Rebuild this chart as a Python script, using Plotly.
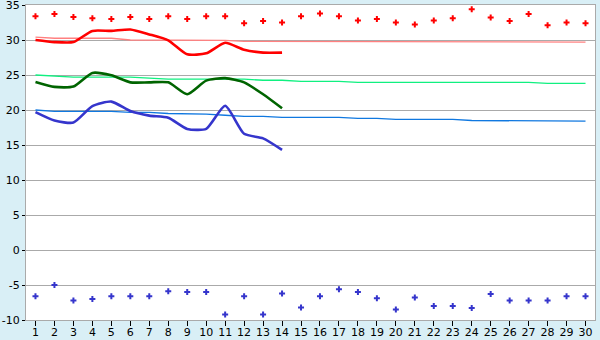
import plotly.graph_objects as go

days = list(range(1, 31))

# record highs (red markers) and record lows (blue markers)
rec_max = [33.4, 33.7, 33.3, 33.1, 33.0, 33.3, 33.0, 33.4, 33.0, 33.4,
           33.4, 32.4, 32.7, 32.5, 33.4, 33.8, 33.4, 32.8, 33.0, 32.5,
           32.2, 32.8, 33.1, 34.4, 33.2, 32.7, 33.7, 32.1, 32.5, 32.4]
rec_min = [-6.6, -5.0, -7.2, -7.0, -6.6, -6.6, -6.6, -5.9, -6.0, -6.0,
           -9.2, -6.6, -9.2, -6.2, -8.2, -6.6, -5.6, -6.0, -6.9, -8.5,
           -6.8, -8.0, -8.0, -8.3, -6.3, -7.2, -7.2, -7.2, -6.6, -6.6]

# normals (thin lines)
norm_max = [30.4, 30.25, 30.25, 30.25, 30.25, 30.0, 30.0, 30.0, 30.0, 30.0,
            29.95, 29.8, 29.8, 29.8, 29.7, 29.7, 29.7, 29.7, 29.7, 29.7,
            29.7, 29.7, 29.7, 29.7, 29.7, 29.7, 29.7, 29.7, 29.7, 29.7]
norm_mean = [25.0, 24.8, 24.7, 24.7, 24.7, 24.7, 24.55, 24.4, 24.4, 24.4,
             24.4, 24.4, 24.25, 24.25, 24.1, 24.1, 24.1, 23.95, 23.95, 23.95,
             23.95, 23.95, 23.95, 23.95, 23.95, 23.95, 23.95, 23.8, 23.8, 23.8]
norm_min = [20.0, 19.8, 19.8, 19.8, 19.8, 19.65, 19.65, 19.5, 19.5, 19.4,
            19.25, 19.1, 19.1, 18.95, 18.95, 18.95, 18.95, 18.8, 18.8, 18.65,
            18.65, 18.65, 18.65, 18.5, 18.5, 18.5, 18.4, 18.4, 18.4, 18.4]

# this month's observed values (days 1-14)
obs_days = list(range(1, 15))
obs_max = [30.0, 29.7, 29.7, 31.3, 31.3, 31.5, 30.8, 29.95, 27.95, 28.1,
           29.6, 28.6, 28.2, 28.2]
obs_mean = [24.0, 23.3, 23.35, 25.3, 24.95, 23.95, 23.95, 23.95, 22.25, 24.2,
            24.55, 23.95, 22.25, 20.25]
obs_min = [19.7, 18.5, 18.2, 20.55, 21.2, 19.85, 19.2, 18.9, 17.3, 17.3,
           20.6, 16.6, 15.95, 14.3]

y_ticks = [-10, -5, 0, 5, 10, 15, 20, 25, 30, 35]
y_tick_labels = ["-10", "-5", "0", "5", "10", "15", "20", "25", "30", "35"]

fig = go.Figure()

fig.add_trace(go.Scatter(x=days, y=norm_max, mode="lines",
                         line=dict(color="#ff8080", width=1.3)))
fig.add_trace(go.Scatter(x=days, y=norm_mean, mode="lines",
                         line=dict(color="#10f080", width=1.3)))
fig.add_trace(go.Scatter(x=days, y=norm_min, mode="lines",
                         line=dict(color="#1078e0", width=1.3)))

fig.add_trace(go.Scatter(x=obs_days, y=obs_max, mode="lines",
                         line=dict(color="#ff0000", width=2.6, shape="spline", smoothing=0.6)))
fig.add_trace(go.Scatter(x=obs_days, y=obs_mean, mode="lines",
                         line=dict(color="#006400", width=2.6, shape="spline", smoothing=0.6)))
fig.add_trace(go.Scatter(x=obs_days, y=obs_min, mode="lines",
                         line=dict(color="#3535cc", width=2.6, shape="spline", smoothing=0.6)))

fig.add_trace(go.Scatter(x=days, y=rec_max, mode="markers",
                         marker=dict(symbol="cross", size=5, color="#ff0000")))
fig.add_trace(go.Scatter(x=days, y=rec_min, mode="markers",
                         marker=dict(symbol="cross", size=5, color="#3535cc")))

fig.update_layout(
    width=600, height=340,
    margin=dict(l=26, r=5, t=5, b=20, autoexpand=False),
    paper_bgcolor="#d9eff6",
    plot_bgcolor="#ffffff",
    showlegend=False,
    font=dict(family="DejaVu Sans", size=11, color="#000000"),
)
fig.update_xaxes(
    range=[0.5, 30.5], tickmode="array", tickvals=days,
    ticktext=[str(d) for d in days],
    showgrid=False, zeroline=False, automargin=False,
    showline=True, linecolor="#aaaaaa", linewidth=1, mirror=True,
    ticks="outside", ticklen=5, tickcolor="#000000", tickwidth=1,
    tickfont=dict(size=11), ticklabeloverflow="allow", ticklabelstandoff=-3,
)
fig.update_yaxes(
    range=[-10, 35], tickmode="array", tickvals=y_ticks, ticktext=y_tick_labels,
    showgrid=True, gridcolor="#aaaaaa", gridwidth=1, zeroline=False, automargin=False,
    showline=True, linecolor="#aaaaaa", linewidth=1, mirror=True,
    ticks="outside", ticklen=3, tickcolor="#000000", tickwidth=1,
    tickfont=dict(size=11), ticklabeloverflow="allow",
)

fig.write_html("out.html")
